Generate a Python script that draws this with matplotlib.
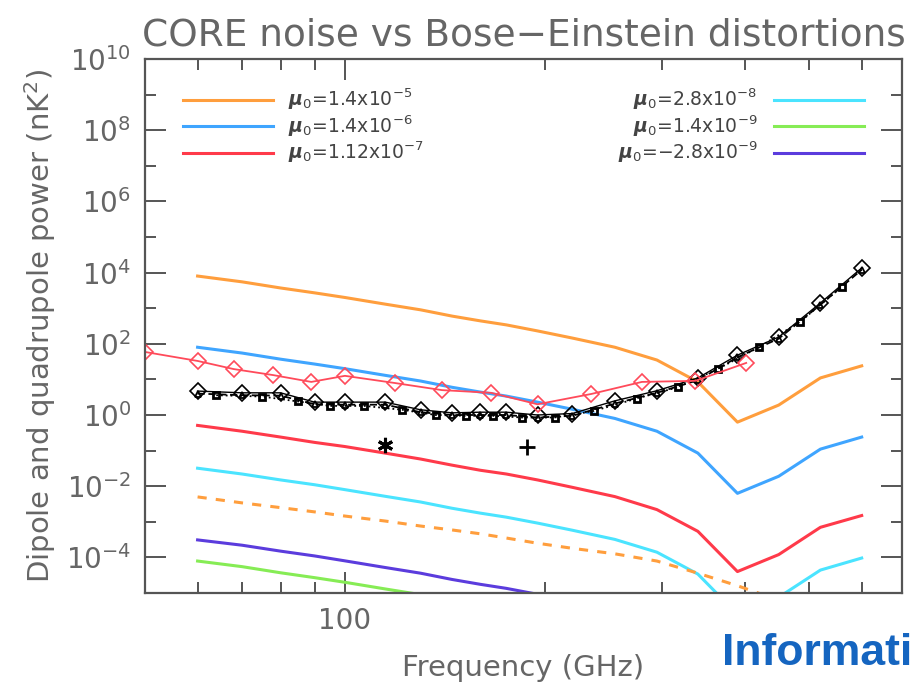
import matplotlib
matplotlib.use("Agg")
import matplotlib.pyplot as plt
from matplotlib.ticker import FixedLocator, FuncFormatter, NullFormatter
import numpy as np

# CORE channels (GHz) and the Bose-Einstein distortion power for each mu_0
core_freq = [60, 70, 80, 90, 100, 115, 130, 145, 160, 175, 195, 220, 255,
             295, 340, 390, 450, 520, 600]
be_mu_1p4e5 = [8.0e3, 5.5e3, 3.7e3, 2.7e3, 2.0e3, 1.3e3, 9.0e2, 6.0e2, 4.4e2,
               3.4e2, 2.3e2, 1.45e2, 8.0e1, 3.5e1, 8.5e0, 6.3e-1, 1.9e0,
               1.1e1, 2.4e1]
be_mu_1p4e6 = [8.0e1, 5.5e1, 3.7e1, 2.7e1, 2.0e1, 1.3e1, 9.0e0, 6.0e0, 4.4e0,
               3.4e0, 2.3e0, 1.45e0, 8.0e-1, 3.5e-1, 8.5e-2, 6.3e-3, 1.9e-2,
               1.1e-1, 2.4e-1]
be_mu_1p12e7 = [5.1e-1, 3.5e-1, 2.4e-1, 1.7e-1, 1.3e-1, 8.5e-2, 5.8e-2,
                3.9e-2, 2.8e-2, 2.2e-2, 1.5e-2, 9.3e-3, 5.1e-3, 2.2e-3,
                5.4e-4, 4.0e-5, 1.2e-4, 7.0e-4, 1.5e-3]
be_mu_2p8e8 = [3.2e-2, 2.2e-2, 1.5e-2, 1.1e-2, 8.0e-3, 5.2e-3, 3.6e-3,
               2.4e-3, 1.75e-3, 1.35e-3, 9.2e-4, 5.8e-4, 3.2e-4, 1.4e-4,
               3.4e-5, 2.5e-6, 7.6e-6, 4.4e-5, 9.6e-5]
be_mu_1p4e9 = [7.9e-5, 5.5e-5, 3.7e-5, 2.7e-5, 2.0e-5, 1.3e-5, 9.0e-6,
               6.0e-6, 4.4e-6, 3.4e-6]
be_mu_m2p8e9 = [3.1e-4, 2.2e-4, 1.5e-4, 1.1e-4, 8.0e-5, 5.2e-5, 3.6e-5,
                2.4e-5, 1.75e-5, 1.35e-5, 9.2e-6, 5.8e-6]
be_dashed = [5.0e-3, 3.4e-3, 2.5e-3, 1.9e-3, 1.45e-3, 1.05e-3, 7.6e-4,
             5.9e-4, 4.6e-4, 3.5e-4, 2.5e-4, 1.8e-4, 1.26e-4, 7.9e-5,
             3.6e-5, 1.6e-5, 6.3e-6]

# CORE noise (black)
core_noise_a = [4.7, 4.2, 4.2, 2.3, 2.3, 2.3, 1.4, 1.15, 1.2, 1.2, 1.0, 1.1,
                2.5, 4.8, 11.0, 48.0, 155.0, 1400.0, 13500.0]
core_noise_b = [4.0, 3.6, 3.5, 2.0, 1.95, 1.95, 1.2, 1.0, 1.0, 1.0, 0.85,
                0.95, 2.1, 4.2, 9.5, 42.0, 140.0, 1250.0, 12000.0]
mid_freq = [64, 75, 85, 95, 107, 122, 137, 152, 167, 185, 207, 237, 275, 317,
            365, 420, 485, 560]
core_noise_c = [3.6, 3.3, 2.4, 1.8, 1.8, 1.4, 1.0, 0.95, 0.95, 0.85, 0.85,
                1.3, 2.9, 6.0, 20.0, 80.0, 420.0, 4000.0]

# LiteBIRD noise (red diamonds)
lb_freq = [50, 60, 68, 78, 89, 100, 119, 140, 166, 195, 235, 280, 337, 402]
lb_noise = [59.0, 33.0, 19.5, 13.2, 8.5, 12.6, 7.9, 5.0, 4.2, 2.0, 3.9, 8.5,
            9.1, 29.0]

star_pt = ([115], [0.14])
plus_pt = ([188], [0.126])

labels = [r"$\boldsymbol{\mu}_0$=1.4x10$^{-5}$",
          r"$\boldsymbol{\mu}_0$=1.4x10$^{-6}$",
          r"$\boldsymbol{\mu}_0$=1.12x10$^{-7}$",
          r"$\boldsymbol{\mu}_0$=2.8x10$^{-8}$",
          r"$\boldsymbol{\mu}_0$=1.4x10$^{-9}$",
          r"$\boldsymbol{\mu}_0$=−2.8x10$^{-9}$"]
colors = ["#FF9E3D", "#3FA5FF", "#FF3A4A", "#4BE4FF", "#86EC55", "#5B3CDD"]

plt.rcParams["font.family"] = ["DejaVu Sans"]
plt.rcParams["mathtext.fontset"] = "custom"
plt.rcParams["mathtext.rm"] = "DejaVu Sans"
plt.rcParams["mathtext.it"] = "DejaVu Sans:italic"
plt.rcParams["mathtext.bf"] = "DejaVu Sans:bold"
txt = "#666666"

fig = plt.figure(figsize=(9.21, 6.83), dpi=100)
ax = fig.add_axes([145 / 921, 90 / 683, 757 / 921, 534 / 683])
ax.set_xscale("log")
ax.set_yscale("log")

series = [be_mu_1p4e5, be_mu_1p4e6, be_mu_1p12e7, be_mu_2p8e8,
          be_mu_1p4e9, be_mu_m2p8e9]
handles = []
for vals, c, lab in zip(series, colors, labels):
    h, = ax.plot(core_freq[:len(vals)], vals, color=c, lw=2.2, label=lab)
    handles.append(h)
ax.plot(core_freq[:len(be_dashed)], be_dashed, color=colors[0], lw=2.2,
        ls=(0, (3, 3)))

ax.plot(core_freq, core_noise_b, color="k", lw=1.3, ls=(0, (4, 2)),
        marker="^", ms=5, mfc="none", mew=1.3)
ax.plot(mid_freq, core_noise_c, color="k", lw=1.3, ls=":",
        marker="s", ms=5, mfc="none", mew=2.0)
ax.plot(core_freq, core_noise_a, color="k", lw=1.0,
        marker="D", ms=8, mfc="none", mew=1.2)

ax.plot(lb_freq, lb_noise, color="#FF4A5A", lw=1.3,
        marker="D", ms=8, mfc="none", mew=1.2)

ax.plot(*star_pt, ls="none", marker=(6, 2, 0), ms=11, color="k", mew=2.2)
ax.plot(*plus_pt, ls="none", marker="+", ms=12, color="k", mew=2.0)

ax.set_xlim(50, 690)
ax.set_ylim(1e-5, 1e10)

ax.xaxis.set_major_locator(FixedLocator([100]))
ax.xaxis.set_minor_locator(FixedLocator([50, 60, 70, 80, 90, 200, 300, 400,
                                         500, 600]))
ax.xaxis.set_major_formatter(FuncFormatter(lambda v, p: "%d" % v))
ax.xaxis.set_minor_formatter(NullFormatter())
ax.yaxis.set_major_locator(FixedLocator([10.0 ** k for k in range(-4, 11, 2)]))
ax.yaxis.set_minor_locator(FixedLocator([10.0 ** k for k in range(-5, 10, 2)]))
ax.yaxis.set_major_formatter(
    FuncFormatter(lambda v, p: r"$10^{%d}$" % round(np.log10(v))))
ax.yaxis.set_minor_formatter(NullFormatter())

ax.tick_params(which="both", direction="in", top=True, right=True,
               colors="#555555", labelcolor=txt, labelsize=20, width=1.4)
ax.tick_params(which="major", length=15, pad=10)
ax.tick_params(which="minor", length=8)
for s in ax.spines.values():
    s.set_color("#555555")
    s.set_linewidth(1.6)

ax.set_xlabel("Frequency (GHz)", fontsize=21, color=txt, labelpad=14)
ax.set_ylabel(r"Dipole and quadrupole power (nK$^2$)", fontsize=21,
              color=txt, labelpad=6)
ax.set_title("CORE noise vs Bose−Einstein distortions", fontsize=27,
             color=txt, pad=10)

leg1 = ax.legend(handles=handles[:3], loc="upper left",
                 bbox_to_anchor=(0.05, 0.948), frameon=False, fontsize=13.5,
                 handlelength=4.8, handletextpad=0.8, labelspacing=0.05,
                 borderaxespad=0, borderpad=0)
for t in leg1.get_texts():
    t.set_color("#444444")
ax.add_artist(leg1)
leg2 = ax.legend(handles=handles[3:], loc="upper right",
                 bbox_to_anchor=(0.95, 0.948), frameon=False, fontsize=13.5,
                 handlelength=4.8, handletextpad=0.9, labelspacing=0.05,
                 borderaxespad=0, borderpad=0, markerfirst=False)
for t in leg2.get_texts():
    t.set_color("#444444")

fig.text(722 / 921, 18 / 683, "Informati", color="#1565C0",
         fontsize=32, fontweight="bold", family="Liberation Sans")

fig.savefig("out.png", dpi=100)
